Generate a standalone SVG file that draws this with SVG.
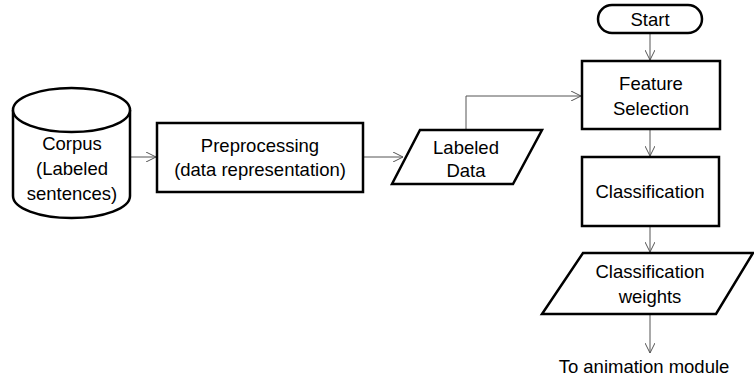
<svg xmlns="http://www.w3.org/2000/svg" width="754" height="381" viewBox="0 0 754 381">
  <style>
    .shape { fill: #ffffff; stroke: #000000; stroke-width: 2.5; }
    .label { font-family: "Liberation Sans", Arial, sans-serif; font-size: 18.5px; fill: #000000; text-anchor: middle; }
    .conn { fill: none; stroke: #555555; stroke-width: 1; }
  </style>
  <defs>
    <marker id="arrow" viewBox="0 0 10 10" refX="10" refY="5" markerWidth="10" markerHeight="10" markerUnits="userSpaceOnUse" orient="auto">
      <path d="M0,0 L10,5 L0,10" fill="none" stroke="#555555" stroke-width="1"/>
    </marker>
  </defs>
  <rect width="754" height="381" fill="#ffffff"/>

  <g id="connectors">
    <line class="conn" x1="131" y1="157" x2="156" y2="157" marker-end="url(#arrow)"/>
    <line class="conn" x1="364" y1="157" x2="403" y2="157" marker-end="url(#arrow)"/>
    <polyline class="conn" points="466,130 466,96 581,96" marker-end="url(#arrow)"/>
    <line class="conn" x1="650" y1="34" x2="650" y2="60" marker-end="url(#arrow)"/>
    <line class="conn" x1="650" y1="130" x2="650" y2="156" marker-end="url(#arrow)"/>
    <line class="conn" x1="650" y1="227" x2="650" y2="252" marker-end="url(#arrow)"/>
    <line class="conn" x1="650" y1="315" x2="650" y2="353" marker-end="url(#arrow)"/>
  </g>

  <g id="corpus">
    <path class="shape" d="M13,110 L13,196 A58.5,22 0 0 0 130,196 L130,110"/>
    <ellipse class="shape" cx="71.5" cy="110" rx="58.5" ry="22"/>
    <text class="label" x="72" y="150">Corpus</text>
    <text class="label" x="72" y="175">(Labeled</text>
    <text class="label" x="72" y="200">sentences)</text>
  </g>

  <g id="preprocessing">
    <rect class="shape" x="157" y="123" width="206" height="69"/>
    <text class="label" x="260" y="152">Preprocessing</text>
    <text class="label" x="260" y="176">(data representation)</text>
  </g>

  <g id="labeled-data">
    <polygon class="shape" points="420,130 542,130 513,184 392,184"/>
    <text class="label" x="466" y="154">Labeled</text>
    <text class="label" x="466" y="177">Data</text>
  </g>

  <g id="start">
    <rect class="shape" x="598" y="5" width="104" height="28" rx="14" ry="14"/>
    <text class="label" x="650" y="26">Start</text>
  </g>

  <g id="feature-selection">
    <rect class="shape" x="582" y="61" width="138" height="68"/>
    <text class="label" x="651" y="90">Feature</text>
    <text class="label" x="651" y="115">Selection</text>
  </g>

  <g id="classification">
    <rect class="shape" x="582" y="157" width="137" height="69"/>
    <text class="label" x="650" y="198">Classification</text>
  </g>

  <g id="classification-weights">
    <polygon class="shape" points="583,253 753,253 716,314 542,314"/>
    <text class="label" x="650" y="278">Classification</text>
    <text class="label" x="650" y="303">weights</text>
  </g>

  <g id="output-label">
    <text class="label" x="644" y="373">To animation module</text>
  </g>
</svg>
